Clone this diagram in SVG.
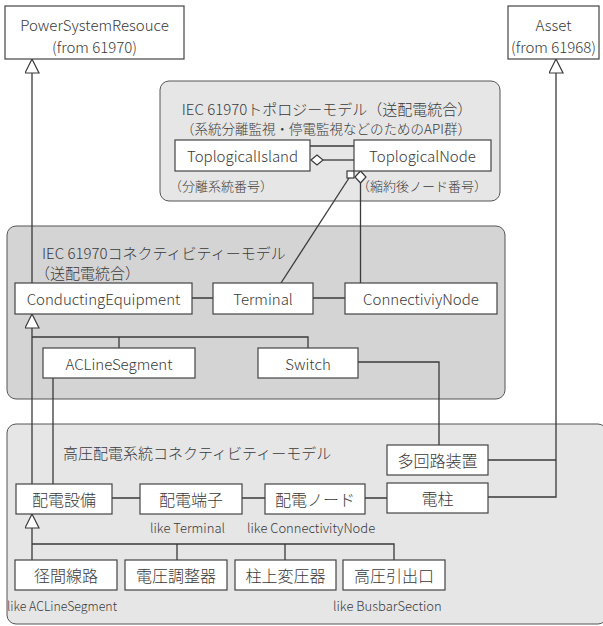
<svg xmlns="http://www.w3.org/2000/svg" width="603" height="626" viewBox="0 0 603 626">
<style>
text{font-family:"Noto Sans CJK JP","Noto Sans",sans-serif;font-weight:300;fill:#3a3a3a;dominant-baseline:central}
.bx{fill:#fff;stroke:#444;stroke-width:1.2}
.t16{font-size:16px;text-anchor:middle}
.e15{font-size:15px;text-anchor:middle}
.t15{font-size:15px}
.t13{font-size:13px}
.ln{fill:none;stroke:#3a3a3a;stroke-width:1.3}
.hd{fill:#fff;stroke:#3a3a3a;stroke-width:1.2}
.pnl{stroke:#555;stroke-width:1}
</style>
<defs>
<marker id="gen" markerWidth="16" markerHeight="16" refX="15" refY="7.5" orient="auto" markerUnits="userSpaceOnUse">
<path d="M1,0.5 L15,7.5 L1,14.5 Z" fill="#fff" stroke="#3a3a3a" stroke-width="1.2"/>
</marker>
</defs>

<g id="panel-topology">
<rect class="pnl" x="160" y="81" width="340" height="120" rx="9" fill="#e6e6e6"/>
<text class="t15" x="327" y="108" text-anchor="middle">IEC 61970トポロジーモデル（送配電統合）</text>
<text x="326" y="128" text-anchor="middle" font-size="13.5">（系統分離監視・停電監視などのためのAPI群）</text>
<text class="t13" x="169" y="185">（分離系統番号）</text>
<text class="t13" x="357" y="185">（縮約後ノード番号）</text>
</g>
<g id="panel-connectivity">
<rect class="pnl" x="7" y="226" width="498" height="173" rx="9" fill="#d4d4d5"/>
<text class="t15" x="42" y="252">IEC 61970コネクティビティーモデル</text>
<text class="t15" x="35" y="272">（送配電統合）</text>
</g>
<g id="panel-distribution">
<rect class="pnl" x="7" y="424" width="600" height="200" rx="9" fill="#e6e6e7"/>
<text class="t15" x="63" y="452">高圧配電系統コネクティビティーモデル</text>
<text class="t13" x="150" y="527">like Terminal</text>
<text class="t13" x="247" y="527">like ConnectivityNode</text>
<text class="t13" x="7" y="605" textLength="110" lengthAdjust="spacingAndGlyphs">like ACLineSegment</text>
<text class="t13" x="333" y="605">like BusbarSection</text>
</g>

<g id="connectors">
<path class="ln" d="M32,283 V59" marker-end="url(#gen)"/>
<path class="ln" d="M488,497 H556 V59" marker-end="url(#gen)"/>
<path class="ln" d="M488,460 H556"/>
<path class="ln" d="M310,146 H354"/>
<path class="ln" d="M323,160 H354"/>
<path class="hd" d="M311,160 L317,155 L323,160 L317,165 Z"/>
<path class="ln" d="M349,178 L281,283"/>
<path class="ln" d="M360.5,183 V283"/>
<rect class="hd" x="347" y="171" width="7" height="7"/>
<path class="hd" d="M360.5,171 L366,177 L360.5,183 L355,177 Z"/>
<path class="ln" d="M192,298 H213 M313,298 H345"/>
<path class="ln" d="M32,484 V314" marker-end="url(#gen)"/>
<path class="ln" d="M32,337 H308 V348 M119,337 V348"/>
<path class="ln" d="M53,378 V484"/>
<path class="ln" d="M358,362 H439 V445"/>
<path class="ln" d="M112,498 H140 M242,498 H265 M365,498 H387"/>
<path class="ln" d="M32,560 V514" marker-end="url(#gen)"/>
<path class="ln" d="M32,544 H394 V560 M177,544 V560 M285,544 V560"/>
</g>

<g id="PowerSystemResouce">
<rect class="bx" x="5" y="6" width="179" height="53"/>
<text class="e15" x="94.5" y="24.5">PowerSystemResouce</text>
<text class="e15" x="94.5" y="46">(from 61970)</text>
</g>
<g id="Asset">
<rect class="bx" x="508" y="6" width="91" height="53"/>
<text class="e15" x="553.5" y="24.5">Asset</text>
<text class="e15" x="553.5" y="46">(from 61968)</text>
</g>
<g id="ToplogicalIsland">
<rect class="bx" x="175" y="140" width="135" height="31"/>
<text class="e15" x="242.5" y="155.5">ToplogicalIsland</text>
</g>
<g id="ToplogicalNode">
<rect class="bx" x="354" y="140" width="137" height="31"/>
<text class="e15" x="422.5" y="155.5">ToplogicalNode</text>
</g>
<g id="ConductingEquipment">
<rect class="bx" x="15" y="283" width="177" height="31"/>
<text class="e15" x="103.5" y="298.5">ConductingEquipment</text>
</g>
<g id="Terminal">
<rect class="bx" x="213" y="283" width="100" height="31"/>
<text class="e15" x="263" y="298.5">Terminal</text>
</g>
<g id="ConnectiviyNode">
<rect class="bx" x="345" y="283" width="152" height="31"/>
<text class="e15" x="421" y="298.5">ConnectiviyNode</text>
</g>
<g id="ACLineSegment">
<rect class="bx" x="43" y="348" width="152" height="30"/>
<text class="e15" x="119" y="363">ACLineSegment</text>
</g>
<g id="Switch">
<rect class="bx" x="258" y="348" width="100" height="30"/>
<text class="e15" x="308" y="363">Switch</text>
</g>
<g id="多回路装置">
<rect class="bx" x="387" y="445" width="101" height="30"/>
<text class="t16" x="437.5" y="460">多回路装置</text>
</g>
<g id="配電設備">
<rect class="bx" x="16" y="484" width="96" height="30"/>
<text class="t16" x="64" y="499">配電設備</text>
</g>
<g id="配電端子">
<rect class="bx" x="140" y="484" width="102" height="30"/>
<text class="t16" x="191" y="499">配電端子</text>
</g>
<g id="配電ノード">
<rect class="bx" x="265" y="484" width="100" height="30"/>
<text class="t16" x="315" y="499">配電ノード</text>
</g>
<g id="電柱">
<rect class="bx" x="387" y="483" width="101" height="30"/>
<text class="t16" x="437.5" y="498">電柱</text>
</g>
<g id="径間線路">
<rect class="bx" x="15" y="560" width="102" height="30"/>
<text class="t16" x="66" y="575">径間線路</text>
</g>
<g id="電圧調整器">
<rect class="bx" x="125" y="560" width="102" height="30"/>
<text class="t16" x="176" y="575">電圧調整器</text>
</g>
<g id="柱上変圧器">
<rect class="bx" x="235" y="560" width="101" height="30"/>
<text class="t16" x="285.5" y="575">柱上変圧器</text>
</g>
<g id="高圧引出口">
<rect class="bx" x="343" y="560" width="102" height="30"/>
<text class="t16" x="394" y="575">高圧引出口</text>
</g>
</svg>
